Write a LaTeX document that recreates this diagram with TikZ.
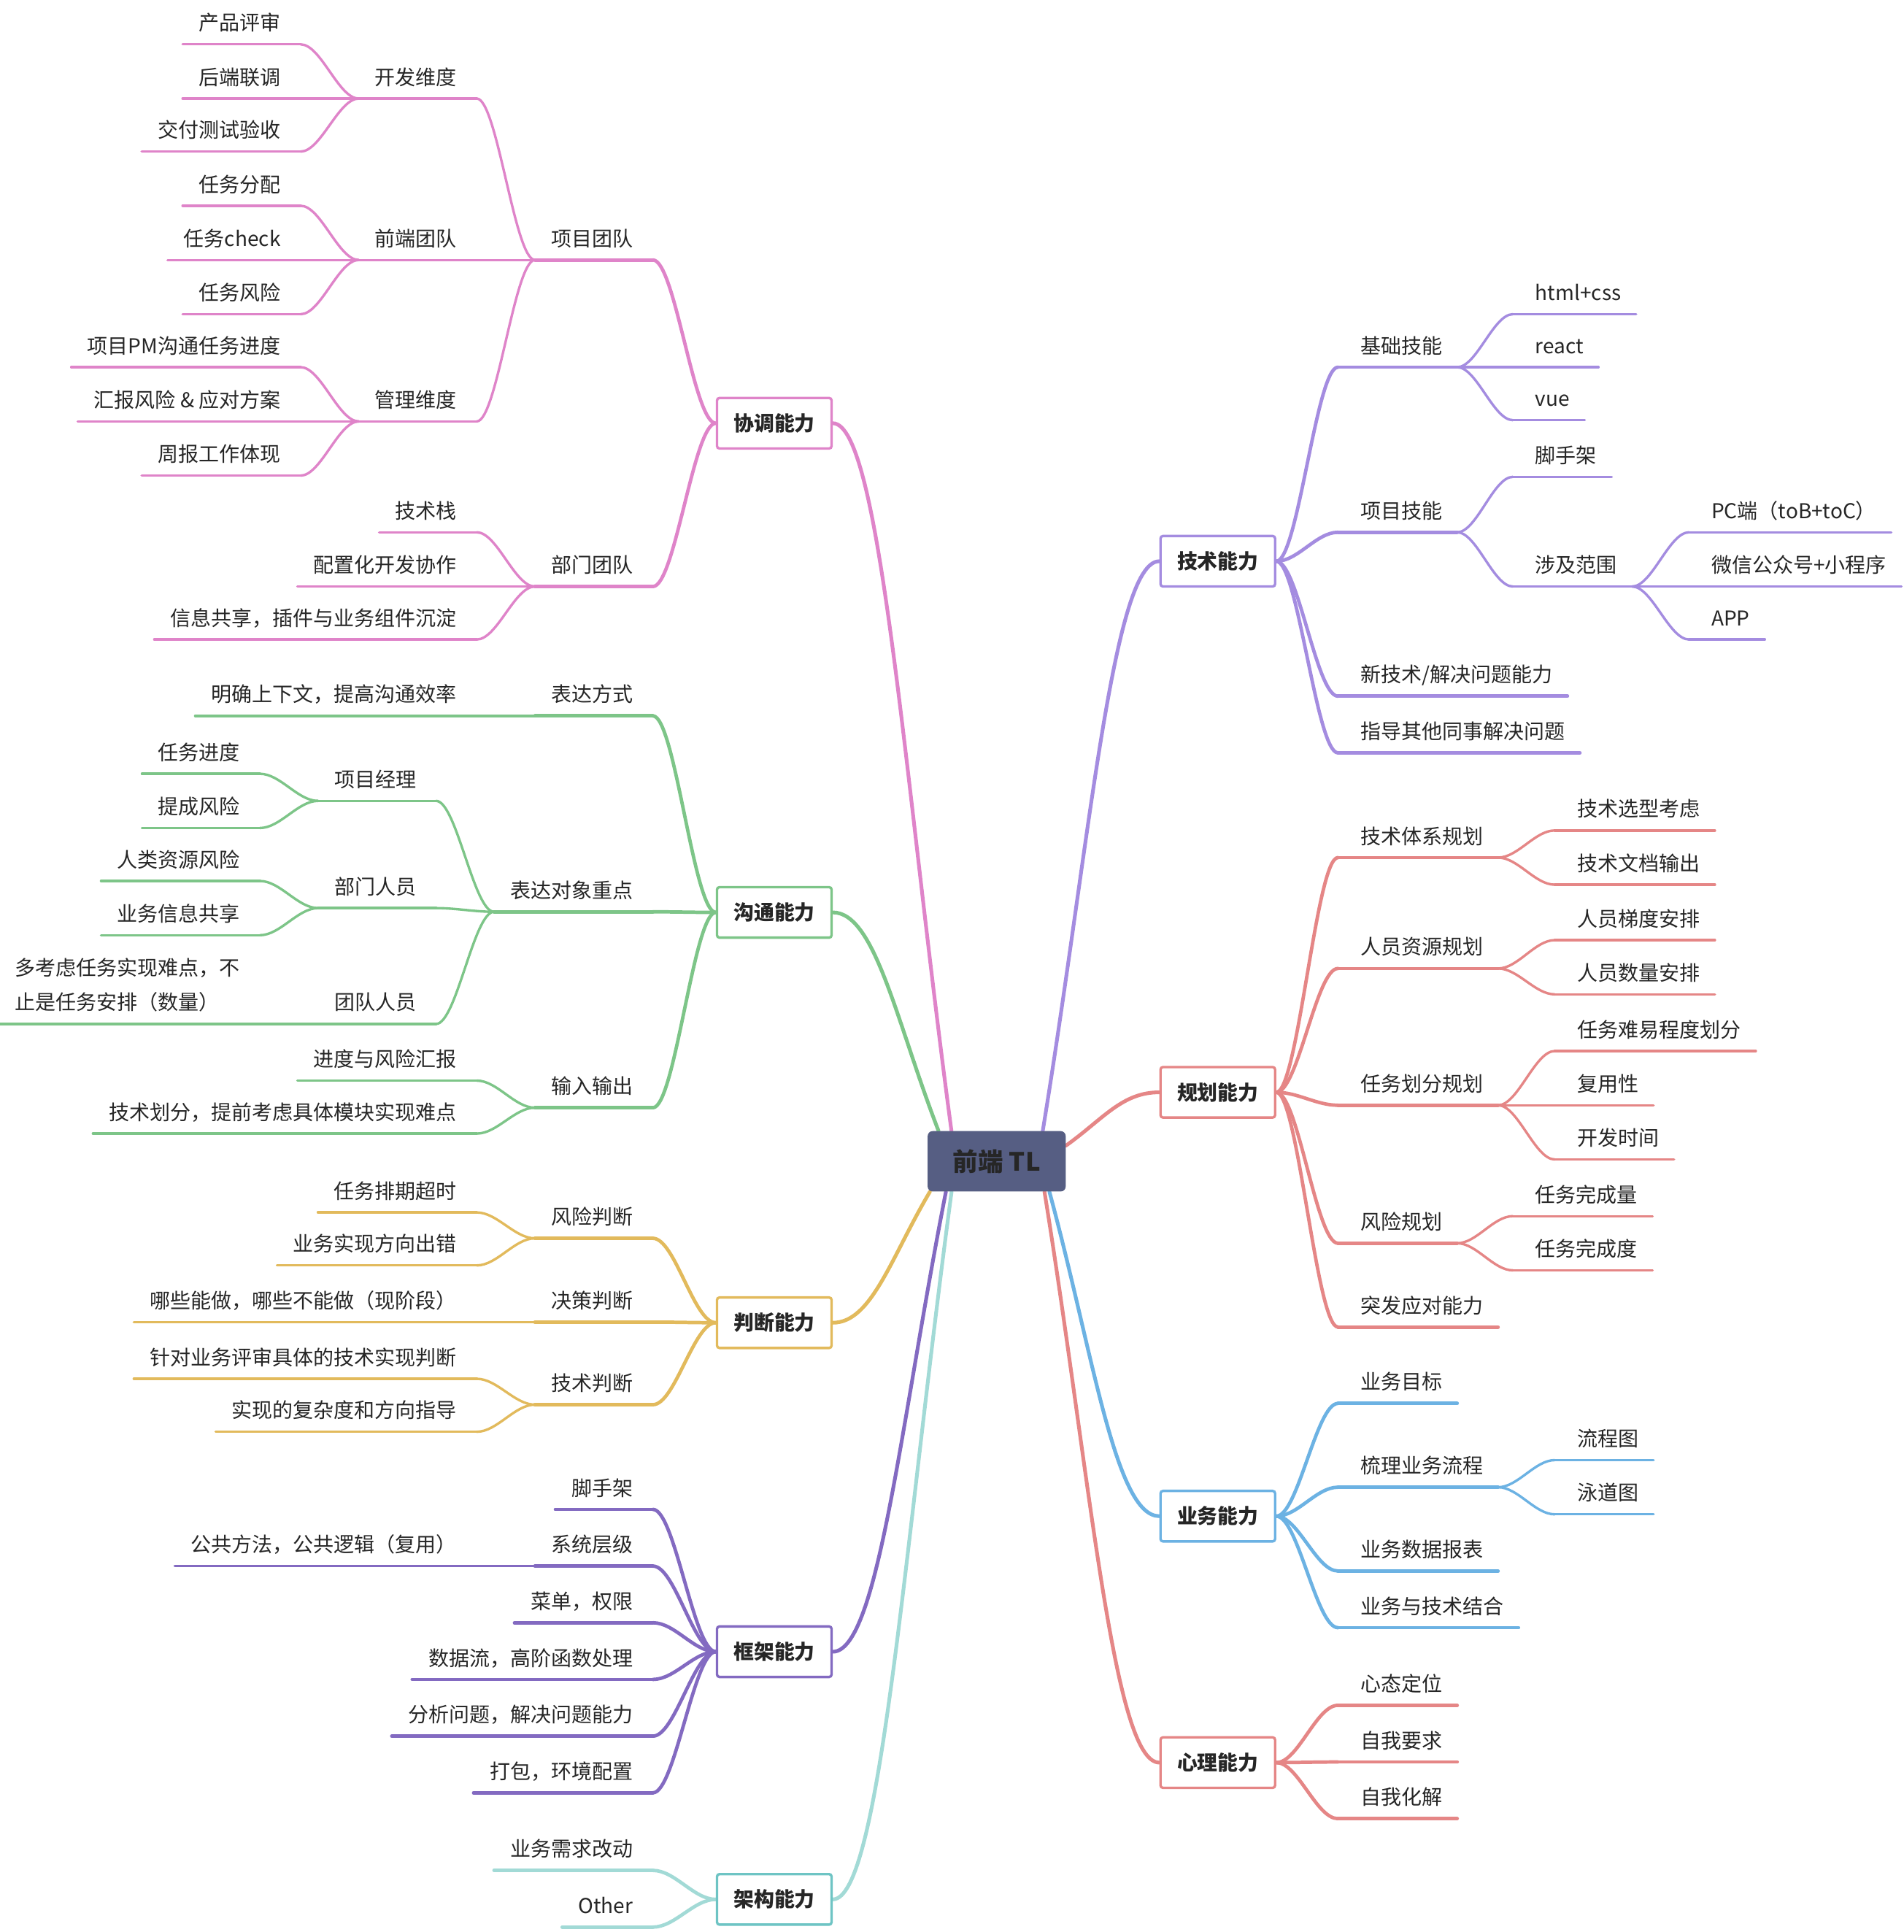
\documentclass[tikz,border=0pt]{standalone}
\usepackage{fontspec}
\setmainfont{Noto Sans CJK SC}
\usetikzlibrary{calc}
\pgfdeclarelayer{background}
\pgfsetlayers{background,main}
\definecolor{ctext}{RGB}{38,38,38}
\definecolor{cpink}{RGB}{223,132,201}
\definecolor{cgreen}{RGB}{125,197,136}
\definecolor{cyellow}{RGB}{226,186,92}
\definecolor{cpurple}{RGB}{131,106,193}
\definecolor{cteal}{RGB}{162,218,214}
\definecolor{ctealb}{RGB}{110,196,196}
\definecolor{clav}{RGB}{164,140,224}
\definecolor{csalmon}{RGB}{229,134,134}
\definecolor{cblue}{RGB}{108,178,227}
\definecolor{ccenter}{RGB}{86,94,131}
\tikzset{
  lab/.style={inner sep=0pt, text height=14pt, text depth=11pt, font=\fontsize{16.6pt}{28pt}\selectfont, text=ctext},
  box/.style={draw, line width=2pt, fill=white, rounded corners=2pt, minimum width=93pt, minimum height=41pt, inner sep=0pt, font=\fontsize{16.5pt}{20pt}\selectfont\bfseries, text=ctext},
  hub/.style={fill=ccenter, rounded corners=4pt, minimum width=112pt, minimum height=49pt, inner sep=0pt, font=\fontsize{20.5pt}{24pt}\selectfont\bfseries, text=ctext},
  w1/.style={line width=3pt, line cap=round},
  w2/.style={line width=2.8pt, line cap=round},
  w3/.style={line width=2pt, line cap=round},
  w4/.style={line width=2pt, line cap=round},
}
% left-side topic: name, text right x, underline y, colour, width, text
\newcommand\Lnode[6]{%
  \node[lab, anchor=south east] (#1) at (#2,#3) {#6};
  \coordinate (#1-j) at ([xshift=-13pt]#1.south west);
  \coordinate (#1-e) at ([xshift=16pt]#1.south east);
  \draw[#4,#5] (#1-j) -- (#1-e);}
% right-side topic: name, text left x, underline y, colour, width, text
\newcommand\Rnode[6]{%
  \node[lab, anchor=south west] (#1) at (#2,#3) {#6};
  \coordinate (#1-e) at ([xshift=-18pt]#1.south west);
  \coordinate (#1-j) at ([xshift=12pt]#1.south east);
  \draw[#4,#5] (#1-e) -- (#1-j);}
% branch connector
\newcommand\conn[4]{%
  \draw[#1,#2] let \p1=(#3), \p2=(#4) in (\p1) .. controls ({\x1+0.35*(\x2-\x1)},\y1) and ({\x2-0.35*(\x2-\x1)},\y2) .. (\p2);}
% main connector
\newcommand\mconn[3]{%
  \draw[#1,w1] let \p1=(#2), \p2=(#3) in (\p1) .. controls ({\x1+0.4*(\x2-\x1)},\y1) and ({\x2-0.4*(\x2-\x1)},{\y2-0.5*(\y2-\y1)}) .. (\p2);}
\begin{document}
\begin{tikzpicture}[x=1pt,y=-1pt]
\useasboundingbox (0,0) rectangle (1545,1568);
\begin{pgfonlayer}{background}
\fill[white] (0,0) rectangle (1545,1568);
\end{pgfonlayer}

% centre
\node[hub] (C) at (809,942.5) {前端\ TL};
\coordinate (cP) at ([xshift=19.5pt]C.north west);
\coordinate (cG) at ([xshift=9pt]C.north west);
\coordinate (cT) at ([xshift=93.6pt]C.north west);
\coordinate (cR) at ([yshift=-12pt]C.north east);
\coordinate (cY) at ([xshift=2pt]C.south west);
\coordinate (cK) at ([xshift=15pt]C.south west);
\coordinate (cA) at ([xshift=19.6pt]C.south west);
\coordinate (cX) at ([xshift=95pt]C.south west);
\coordinate (cB) at ([xshift=99pt]C.south west);

% ---------- 协调能力 ----------
\node[box, draw=cpink] (B1) at (628.5,343.5) {协调能力};
\Lnode{p1}{514}{211}{cpink}{w2}{项目团队}
\Lnode{p2}{514}{476}{cpink}{w2}{部门团队}
\Lnode{p11}{371}{80}{cpink}{w3}{开发维度}
\Lnode{p12}{371}{211}{cpink}{w3}{前端团队}
\Lnode{p13}{371}{342}{cpink}{w3}{管理维度}
\Lnode{p111}{228}{36}{cpink}{w4}{产品评审}
\Lnode{p112}{228}{80}{cpink}{w4}{后端联调}
\Lnode{p113}{228}{123}{cpink}{w4}{交付测试验收}
\Lnode{p121}{228}{167}{cpink}{w4}{任务分配}
\Lnode{p122}{228}{211}{cpink}{w4}{任务check}
\Lnode{p123}{228}{255}{cpink}{w4}{任务风险}
\Lnode{p131}{228}{298}{cpink}{w4}{项目PM沟通任务进度}
\Lnode{p132}{228}{342}{cpink}{w4}{汇报风险 \& 应对方案}
\Lnode{p133}{228}{386}{cpink}{w4}{周报工作体现}
\Lnode{p21}{371}{432}{cpink}{w3}{技术栈}
\Lnode{p22}{371}{476}{cpink}{w3}{配置化开发协作}
\Lnode{p23}{371}{519}{cpink}{w3}{信息共享，插件与业务组件沉淀}

% ---------- 沟通能力 ----------
\node[box, draw=cgreen] (B2) at (628.5,740.5) {沟通能力};
\Lnode{g1}{514}{581}{cgreen}{w2}{表达方式}
\Lnode{g2}{514}{740}{cgreen}{w2}{表达对象重点}
\Lnode{g3}{514}{899}{cgreen}{w2}{输入输出}
\Lnode{g11}{371}{581}{cgreen}{w3}{明确上下文，提高沟通效率}
\Lnode{g21}{338}{650}{cgreen}{w3}{项目经理}
\Lnode{g22}{338}{737}{cgreen}{w3}{部门人员}
\Lnode{g23}{338}{831}{cgreen}{w3}{团队人员}
\Lnode{g211}{195}{628}{cgreen}{w4}{任务进度}
\Lnode{g212}{195}{672}{cgreen}{w4}{提成风险}
\Lnode{g221}{195}{715}{cgreen}{w4}{人类资源风险}
\Lnode{g222}{195}{759}{cgreen}{w4}{业务信息共享}
\Lnode{g231}{195}{831}{cgreen}{w4}{\vbox{\baselineskip=28pt\hbox{多考虑任务实现难点，不}\hbox{止是任务安排（数量）}}}
\Lnode{g31}{371}{877}{cgreen}{w3}{进度与风险汇报}
\Lnode{g32}{371}{920}{cgreen}{w3}{技术划分，提前考虑具体模块实现难点}

% ---------- 判断能力 ----------
\node[box, draw=cyellow] (B3) at (628.5,1073.5) {判断能力};
\Lnode{y1}{514}{1005}{cyellow}{w2}{风险判断}
\Lnode{y2}{514}{1073}{cyellow}{w2}{决策判断}
\Lnode{y3}{514}{1140}{cyellow}{w2}{技术判断}
\Lnode{y11}{371}{984}{cyellow}{w3}{任务排期超时}
\Lnode{y12}{371}{1027}{cyellow}{w3}{业务实现方向出错}
\Lnode{y21}{371}{1073}{cyellow}{w3}{哪些能做，哪些不能做（现阶段）}
\Lnode{y31}{371}{1119}{cyellow}{w3}{针对业务评审具体的技术实现判断}
\Lnode{y32}{371}{1162}{cyellow}{w3}{实现的复杂度和方向指导}

% ---------- 框架能力 ----------
\node[box, draw=cpurple] (B4) at (628.5,1340.5) {框架能力};
\Lnode{k1}{514}{1225}{cpurple}{w2}{脚手架}
\Lnode{k2}{514}{1271}{cpurple}{w2}{系统层级}
\Lnode{k3}{514}{1317}{cpurple}{w2}{菜单，权限}
\Lnode{k4}{514}{1363}{cpurple}{w2}{数据流，高阶函数处理}
\Lnode{k5}{514}{1409}{cpurple}{w2}{分析问题，解决问题能力}
\Lnode{k6}{514}{1455}{cpurple}{w2}{打包，环境配置}
\Lnode{k21}{371}{1271}{cpurple}{w3}{公共方法，公共逻辑（复用）}

% ---------- 架构能力 ----------
\node[box, draw=ctealb] (B5) at (628.5,1541.5) {架构能力};
\Lnode{a1}{514}{1518}{cteal}{w2}{业务需求改动}
\Lnode{a2}{514}{1564}{cteal}{w2}{Other}

% ---------- 技术能力 ----------
\node[box, draw=clav] (B6) at (988.5,455.5) {技术能力};
\Rnode{t1}{1104}{298}{clav}{w2}{基础技能}
\Rnode{t2}{1104}{432}{clav}{w2}{项目技能}
\Rnode{t3}{1104}{565}{clav}{w2}{新技术/解决问题能力}
\Rnode{t4}{1104}{611}{clav}{w2}{指导其他同事解决问题}
\Rnode{t11}{1246}{255}{clav}{w3}{html+css}
\Rnode{t12}{1246}{298}{clav}{w3}{react}
\Rnode{t13}{1246}{341}{clav}{w3}{vue}
\Rnode{t21}{1246}{387}{clav}{w3}{脚手架}
\Rnode{t22}{1246}{476}{clav}{w3}{涉及范围}
\Rnode{t221}{1389}{432}{clav}{w4}{PC端（toB+toC）}
\Rnode{t222}{1389}{476}{clav}{w4}{微信公众号+小程序}
\Rnode{t223}{1389}{519}{clav}{w4}{APP}

% ---------- 规划能力 ----------
\node[box, draw=csalmon] (B7) at (988.5,886.5) {规划能力};
\Rnode{r1}{1104}{696}{csalmon}{w2}{技术体系规划}
\Rnode{r2}{1104}{786}{csalmon}{w2}{人员资源规划}
\Rnode{r3}{1104}{897}{csalmon}{w2}{任务划分规划}
\Rnode{r4}{1104}{1009}{csalmon}{w2}{风险规划}
\Rnode{r5}{1104}{1077}{csalmon}{w2}{突发应对能力}
\Rnode{r11}{1280}{674}{csalmon}{w3}{技术选型考虑}
\Rnode{r12}{1280}{718}{csalmon}{w3}{技术文档输出}
\Rnode{r21}{1280}{763}{csalmon}{w3}{人员梯度安排}
\Rnode{r22}{1280}{807}{csalmon}{w3}{人员数量安排}
\Rnode{r31}{1280}{853}{csalmon}{w3}{任务难易程度划分}
\Rnode{r32}{1280}{897}{csalmon}{w3}{复用性}
\Rnode{r33}{1280}{941}{csalmon}{w3}{开发时间}
\Rnode{r41}{1246}{987}{csalmon}{w3}{任务完成量}
\Rnode{r42}{1246}{1031}{csalmon}{w3}{任务完成度}

% ---------- 业务能力 ----------
\node[box, draw=cblue] (B8) at (988.5,1230.5) {业务能力};
\Rnode{b1}{1104}{1139}{cblue}{w2}{业务目标}
\Rnode{b2}{1104}{1207}{cblue}{w2}{梳理业务流程}
\Rnode{b3}{1104}{1275}{cblue}{w2}{业务数据报表}
\Rnode{b4}{1104}{1321}{cblue}{w2}{业务与技术结合}
\Rnode{b21}{1280}{1185}{cblue}{w3}{流程图}
\Rnode{b22}{1280}{1229}{cblue}{w3}{泳道图}

% ---------- 心理能力 ----------
\node[box, draw=csalmon] (B9) at (988.5,1430.5) {心理能力};
\Rnode{x1}{1104}{1384}{csalmon}{w2}{心态定位}
\Rnode{x2}{1104}{1430}{csalmon}{w2}{自我要求}
\Rnode{x3}{1104}{1476}{csalmon}{w2}{自我化解}

\begin{pgfonlayer}{background}
% main connectors
\mconn{cpink}{B1.east}{cP}
\mconn{cgreen}{B2.east}{cG}
\mconn{cyellow}{B3.east}{cY}
\mconn{cpurple}{B4.east}{cK}
\mconn{cteal}{B5.east}{cA}
\mconn{clav}{B6.west}{cT}
\mconn{csalmon}{B7.west}{cR}
\mconn{cblue}{B8.west}{cB}
\mconn{csalmon}{B9.west}{cX}
% pink
\conn{cpink}{w2}{B1.west}{p1-e}
\conn{cpink}{w2}{B1.west}{p2-e}
\conn{cpink}{w3}{p1-j}{p11-e}
\conn{cpink}{w3}{p1-j}{p12-e}
\conn{cpink}{w3}{p1-j}{p13-e}
\conn{cpink}{w4}{p11-j}{p111-e}
\conn{cpink}{w4}{p11-j}{p112-e}
\conn{cpink}{w4}{p11-j}{p113-e}
\conn{cpink}{w4}{p12-j}{p121-e}
\conn{cpink}{w4}{p12-j}{p122-e}
\conn{cpink}{w4}{p12-j}{p123-e}
\conn{cpink}{w4}{p13-j}{p131-e}
\conn{cpink}{w4}{p13-j}{p132-e}
\conn{cpink}{w4}{p13-j}{p133-e}
\conn{cpink}{w3}{p2-j}{p21-e}
\conn{cpink}{w3}{p2-j}{p22-e}
\conn{cpink}{w3}{p2-j}{p23-e}
% green
\conn{cgreen}{w2}{B2.west}{g1-e}
\conn{cgreen}{w2}{B2.west}{g2-e}
\conn{cgreen}{w2}{B2.west}{g3-e}
\conn{cgreen}{w3}{g1-j}{g11-e}
\conn{cgreen}{w3}{g2-j}{g21-e}
\conn{cgreen}{w3}{g2-j}{g22-e}
\conn{cgreen}{w3}{g2-j}{g23-e}
\conn{cgreen}{w4}{g21-j}{g211-e}
\conn{cgreen}{w4}{g21-j}{g212-e}
\conn{cgreen}{w4}{g22-j}{g221-e}
\conn{cgreen}{w4}{g22-j}{g222-e}
\conn{cgreen}{w4}{g23-j}{g231-e}
\conn{cgreen}{w3}{g3-j}{g31-e}
\conn{cgreen}{w3}{g3-j}{g32-e}
% yellow
\conn{cyellow}{w2}{B3.west}{y1-e}
\conn{cyellow}{w2}{B3.west}{y2-e}
\conn{cyellow}{w2}{B3.west}{y3-e}
\conn{cyellow}{w3}{y1-j}{y11-e}
\conn{cyellow}{w3}{y1-j}{y12-e}
\conn{cyellow}{w3}{y2-j}{y21-e}
\conn{cyellow}{w3}{y3-j}{y31-e}
\conn{cyellow}{w3}{y3-j}{y32-e}
% purple
\conn{cpurple}{w2}{B4.west}{k1-e}
\conn{cpurple}{w2}{B4.west}{k2-e}
\conn{cpurple}{w2}{B4.west}{k3-e}
\conn{cpurple}{w2}{B4.west}{k4-e}
\conn{cpurple}{w2}{B4.west}{k5-e}
\conn{cpurple}{w2}{B4.west}{k6-e}
\conn{cpurple}{w3}{k2-j}{k21-e}
% teal
\conn{cteal}{w2}{B5.west}{a1-e}
\conn{cteal}{w2}{B5.west}{a2-e}
% lavender
\conn{clav}{w2}{B6.east}{t1-e}
\conn{clav}{w2}{B6.east}{t2-e}
\conn{clav}{w2}{B6.east}{t3-e}
\conn{clav}{w2}{B6.east}{t4-e}
\conn{clav}{w3}{t1-j}{t11-e}
\conn{clav}{w3}{t1-j}{t12-e}
\conn{clav}{w3}{t1-j}{t13-e}
\conn{clav}{w3}{t2-j}{t21-e}
\conn{clav}{w3}{t2-j}{t22-e}
\conn{clav}{w4}{t22-j}{t221-e}
\conn{clav}{w4}{t22-j}{t222-e}
\conn{clav}{w4}{t22-j}{t223-e}
% salmon planning
\conn{csalmon}{w2}{B7.east}{r1-e}
\conn{csalmon}{w2}{B7.east}{r2-e}
\conn{csalmon}{w2}{B7.east}{r3-e}
\conn{csalmon}{w2}{B7.east}{r4-e}
\conn{csalmon}{w2}{B7.east}{r5-e}
\conn{csalmon}{w3}{r1-j}{r11-e}
\conn{csalmon}{w3}{r1-j}{r12-e}
\conn{csalmon}{w3}{r2-j}{r21-e}
\conn{csalmon}{w3}{r2-j}{r22-e}
\conn{csalmon}{w3}{r3-j}{r31-e}
\conn{csalmon}{w3}{r3-j}{r32-e}
\conn{csalmon}{w3}{r3-j}{r33-e}
\conn{csalmon}{w3}{r4-j}{r41-e}
\conn{csalmon}{w3}{r4-j}{r42-e}
% blue
\conn{cblue}{w2}{B8.east}{b1-e}
\conn{cblue}{w2}{B8.east}{b2-e}
\conn{cblue}{w2}{B8.east}{b3-e}
\conn{cblue}{w2}{B8.east}{b4-e}
\conn{cblue}{w3}{b2-j}{b21-e}
\conn{cblue}{w3}{b2-j}{b22-e}
% salmon psychology
\conn{csalmon}{w2}{B9.east}{x1-e}
\conn{csalmon}{w2}{B9.east}{x2-e}
\conn{csalmon}{w2}{B9.east}{x3-e}
\end{pgfonlayer}
\end{tikzpicture}
\end{document}
